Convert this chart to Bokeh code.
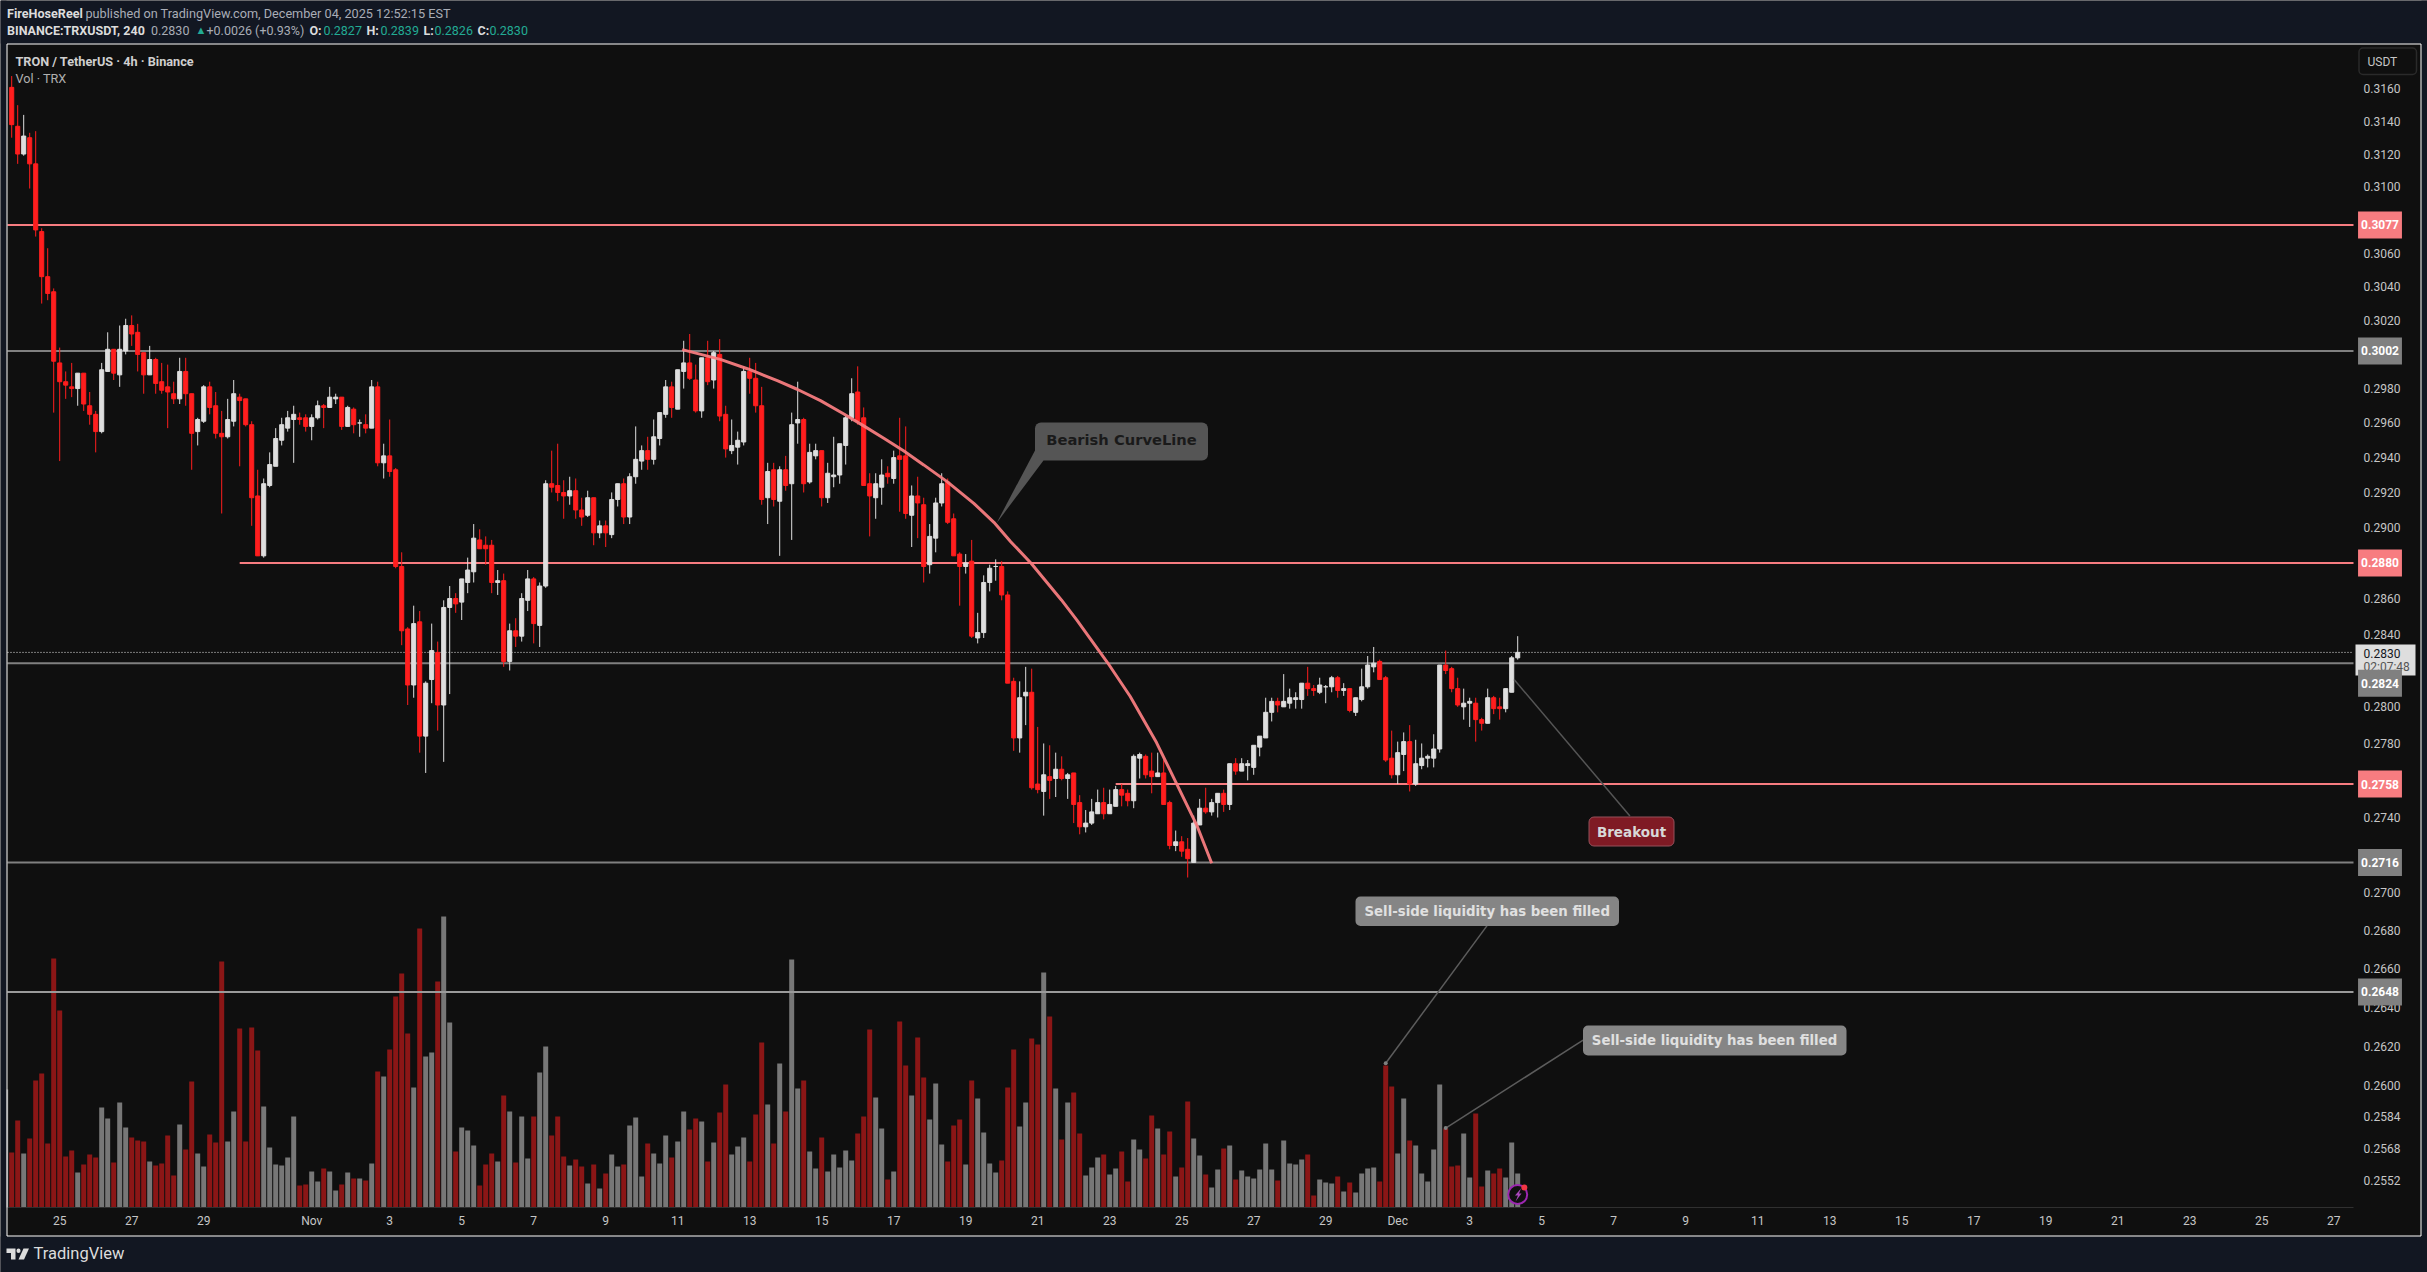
from bokeh.plotting import figure
from bokeh.models import (Range1d, LinearScale, FixedTicker, NumeralTickFormatter, LogAxis, LinearAxis,
                          Label, BoxAnnotation, PolyAnnotation, ColumnDataSource)
from bokeh.embed import file_html
from bokeh.resources import INLINE

# ---- prices in units of 0.0001 (the tick of TRXUSDT), one entry per 4h bar ----
opens = [3161,3137,3120,3130,3114,3073,3046,3037,2995,2984,
2981,2980,2989,2970,2965,2955,2990,3003,2988,3002,
3017,3013,3001,2988,2997,2984,2981,2977,2974,2990,
2977,2955,2961,2981,2970,2954,2952,2961,2975,2974,
2959,2918,2884,2924,2935,2950,2957,2962,2963,2963,
2958,2963,2970,2969,2974,2975,2958,2968,2960,2959,
2957,2981,2937,2941,2933,2878,2843,2812,2847,2784,
2815,2830,2801,2855,2860,2858,2869,2875,2893,2890,
2890,2869,2870,2825,2842,2839,2859,2871,2845,2867,
2925,2924,2920,2918,2921,2910,2907,2917,2897,2901,
2896,2916,2925,2906,2929,2938,2944,2939,2951,2965,
2981,2968,2990,2995,2985,2967,2998,2985,3000,2965,
2944,2946,2949,2990,2986,2970,2917,2933,2915,2933,
2925,2960,2962,2926,2941,2944,2917,2929,2930,2947,
2963,2978,2963,2925,2917,2923,2931,2928,2941,2941,
2907,2918,2913,2879,2894,2914,2926,2905,2885,2878,
2881,2838,2841,2869,2878,2878,2862,2814,2783,2806,
2808,2758,2754,2762,2761,2766,2761,2764,2748,2735,
2737,2742,2748,2742,2746,2755,2753,2749,2772,2773,
2765,2762,2764,2748,2725,2727,2723,2716,2736,2745,
2743,2748,2753,2747,2769,2765,2768,2767,2778,2783,
2797,2803,2800,2802,2804,2804,2813,2810,2808,2811,
2811,2816,2809,2810,2797,2804,2811,2822,2825,2816,
2772,2763,2774,2781,2758,2768,2772,2772,2777,2823,
2821,2810,2800,2802,2802,2793,2791,2805,2800,2799,
2808,2827]
closes = [3138,3120,3131,3114,3074,3046,3036,2996,2984,2982,
2980,2989,2971,2965,2955,2991,3003,2989,3003,3017,
3012,3000,2988,2997,2983,2979,2978,2974,2990,2977,
2954,2962,2981,2969,2954,2952,2962,2977,2973,2959,
2917,2884,2925,2936,2951,2959,2963,2965,2962,2958,
2963,2970,2969,2975,2975,2958,2969,2959,2960,2957,
2981,2937,2941,2932,2878,2842,2812,2846,2784,2813,
2831,2801,2855,2860,2857,2871,2876,2894,2888,2888,
2869,2870,2825,2842,2839,2860,2871,2846,2867,2925,
2923,2920,2918,2921,2910,2906,2917,2897,2901,2897,
2916,2925,2906,2929,2939,2944,2939,2952,2966,2981,
2969,2991,2995,2986,2967,2998,2984,3001,2964,2945,
2947,2950,2990,2986,2970,2916,2932,2916,2933,2924,
2959,2962,2925,2943,2944,2917,2931,2930,2948,2963,
2977,2961,2924,2918,2925,2930,2929,2940,2939,2908,
2918,2914,2878,2895,2914,2925,2903,2884,2878,2880,
2839,2841,2869,2877,2878,2862,2813,2783,2805,2808,
2756,2755,2763,2760,2766,2761,2763,2747,2735,2737,
2743,2748,2742,2747,2755,2752,2749,2773,2774,2763,
2762,2764,2747,2725,2727,2722,2718,2737,2745,2743,
2748,2753,2747,2769,2765,2769,2769,2779,2784,2797,
2803,2801,2803,2805,2805,2813,2810,2809,2812,2811,
2816,2809,2810,2798,2805,2811,2823,2824,2815,2771,
2763,2775,2781,2758,2769,2772,2773,2777,2823,2820,
2810,2801,2802,2803,2793,2791,2805,2799,2799,2810,
2827,2830]
highs = [3168,3150,3144,3133,3134,3075,3063,3039,3004,2990,
2995,2989,2989,2978,2967,2995,3013,3003,3017,3021,
3023,3018,3001,3005,2998,2995,2994,2984,2998,2998,
2977,2963,2982,2984,2978,2967,2974,2985,2977,2974,
2961,2933,2928,2943,2957,2963,2967,2970,2966,2965,
2965,2973,2971,2981,2977,2975,2970,2969,2962,2965,
2985,2984,2948,2962,2934,2886,2844,2856,2853,2814,
2846,2836,2859,2867,2863,2871,2883,2902,2899,2895,
2893,2876,2874,2846,2849,2863,2876,2872,2869,2927,
2944,2948,2927,2929,2928,2917,2921,2917,2904,2904,
2920,2925,2928,2931,2958,2947,2952,2962,2966,2985,
2984,2991,3008,3012,2994,2998,3008,3002,3009,2970,
2962,2955,2993,2998,2995,2981,2937,2937,2935,2941,
2966,2984,2963,2948,2948,2944,2937,2952,2948,2964,
2986,2993,2969,2931,2931,2939,2935,2944,2963,2958,
2924,2929,2917,2902,2917,2931,2928,2908,2886,2885,
2893,2852,2873,2879,2882,2881,2864,2816,2814,2822,
2821,2789,2780,2779,2775,2773,2764,2764,2752,2744,
2750,2755,2756,2755,2757,2758,2755,2774,2775,2774,
2775,2775,2771,2749,2733,2730,2729,2741,2750,2756,
2750,2753,2755,2769,2772,2772,2771,2779,2784,2805,
2805,2805,2818,2810,2808,2813,2822,2812,2816,2812,
2817,2817,2813,2810,2805,2821,2828,2833,2826,2817,
2787,2781,2786,2790,2782,2780,2774,2785,2823,2831,
2822,2816,2810,2805,2805,2794,2810,2806,2805,2810,
2828,2839]
lows = [3130,3114,3119,3099,3070,3030,3032,2966,2938,2974,
2975,2970,2967,2959,2943,2954,2990,2985,2981,3000,
3005,2990,2977,2988,2977,2977,2957,2971,2971,2970,
2933,2947,2960,2965,2951,2908,2951,2958,2935,2958,
2901,2884,2883,2923,2951,2947,2955,2937,2959,2955,
2950,2962,2957,2969,2971,2956,2958,2954,2952,2954,
2957,2935,2928,2929,2877,2834,2801,2805,2775,2764,
2802,2787,2770,2807,2852,2848,2863,2869,2888,2879,
2863,2862,2822,2820,2833,2836,2853,2835,2833,2866,
2920,2915,2905,2913,2905,2901,2906,2890,2894,2889,
2894,2912,2902,2902,2925,2933,2933,2936,2947,2963,
2963,2968,2980,2985,2966,2963,2982,2980,2961,2940,
2942,2936,2947,2977,2966,2913,2902,2912,2884,2921,
2893,2948,2920,2925,2939,2912,2914,2923,2925,2936,
2961,2959,2924,2895,2905,2913,2925,2925,2909,2905,
2889,2894,2869,2874,2886,2912,2902,2884,2856,2874,
2838,2835,2838,2864,2870,2859,2813,2776,2775,2790,
2755,2753,2741,2750,2751,2760,2750,2737,2731,2732,
2736,2742,2739,2742,2746,2746,2746,2745,2761,2761,
2753,2762,2747,2723,2722,2719,2708,2716,2736,2742,
2741,2740,2743,2744,2763,2765,2760,2763,2773,2783,
2792,2797,2800,2799,2799,2799,2806,2806,2807,2802,
2808,2805,2806,2797,2795,2803,2810,2819,2815,2770,
2761,2758,2765,2754,2757,2766,2767,2767,2775,2818,
2808,2800,2793,2789,2781,2787,2791,2796,2793,2797,
2808,2826]
# volume per bar (relative scale of the hidden volume overlay)
volumes = [55,87,54,69,127,134,64,249,197,51,
57,35,43,53,50,100,89,45,105,80,
70,67,66,46,42,44,72,32,83,58,
126,54,41,73,65,246,66,96,179,66,
180,157,101,60,43,42,50,91,22,23,
36,26,39,36,17,23,35,29,29,27,
44,136,131,158,211,234,174,120,279,151,
155,226,291,185,56,80,77,62,22,43,
54,46,112,96,45,91,49,91,135,161,
72,91,51,42,48,41,24,43,19,34,
53,41,43,82,90,31,64,54,44,72,
50,66,96,78,89,86,46,65,95,123,
53,61,70,46,93,165,103,64,144,96,
248,119,127,56,39,70,36,53,40,57,
47,74,91,178,110,79,28,36,186,142,
112,170,130,88,124,63,46,82,88,43,
127,109,75,44,35,47,120,158,81,105,
169,163,235,191,119,68,105,115,74,32,
40,50,53,33,39,56,26,68,58,49,
92,79,53,76,31,40,106,69,52,33,
20,38,59,62,28,37,31,29,38,64,
38,27,67,44,43,48,53,12,28,25,
24,31,16,25,15,34,39,40,26,142,
121,54,109,67,62,34,26,58,123,79,
41,42,74,30,94,21,37,34,39,30,
65,34]
vol_before_first = 118   # bar just left of the first candle

price_ticks = [0.3160,0.3140,0.3120,0.3100,0.3080,0.3060,0.3040,0.3020,0.3000,0.2980,0.2960,0.2940,0.2920,0.2900,
               0.2880,0.2860,0.2840,0.2820,0.2800,0.2780,0.2760,0.2740,0.2720,0.2700,0.2680,0.2660,0.2640,0.2620,
               0.2600,0.2584,0.2568,0.2552]
date_bars = [8,20,32,50,63,75,87,99,111,123,135,147,159,171,183,195,207,219,231,243,255,267,279,291,303,315,327,339,351,363,375,387]
date_labels = ["25","27","29","Nov","3","5","7","9","11","13","15","17","19","21","23","25","27","29","Dec","3","5","7","9","11","13","15","17","19","21","23","25","27"]

level_red = [0.3077, 0.2880, 0.2758]
level_red_start = [None, 38.0, 184.0]
level_grey = [0.3002, 0.2824, 0.2716, 0.2648]
last_price = 0.2830

curve_x = [111.75,118.1,122.85,127.6,130.9,134.8,138.7,142,145.35,148.7,152,155.9,160.35,163.7,166.5,169.9,174.95,177.5,182.63,186.4,190.8,194.1,197.6,200]
curve_p = [.30028,.29971,.29913,.29846,.29796,.2973,.29652,.29583,.29511,.29438,.29358,.29262,.29138,.2903,.2892,.28798,.28592,.28481,.28244,.28058,.27805,.27585,.27352,.27156]

BG, NAVY = "#0f0f0f", "#121722"
RED, WHITE = "#ff1e1e", "#dedede"
VRED, VGREY = "#8b1616", "#777777"
PINK, GREY = "#f77c80", "#808080"
TXT = "#c6c6c6"
W, H = 2427, 1272
FL, FR, FB = 7, 2353, 1207      # edges of the chart pane on the page
BAR0, BAR_W = 11.2, 6.0         # first bar centre and bar spacing on the page
FONT = "Roboto"
LVL = "annotation"
XS, XE = (FL-BAR0)/BAR_W, (FR-BAR0)/BAR_W

# the frame covers the whole page; both axes are placed inside it with fixed_location
p = figure(width=W, height=H, output_backend="svg", toolbar_location=None,
           x_range=Range1d(-BAR0/BAR_W, (W-BAR0)/BAR_W),
           y_range=Range1d(0.25065, 0.32152), y_axis_type="log",
           x_axis_location=None, y_axis_location=None,
           min_border=0, frame_width=W, frame_height=H,
           background_fill_color=BG, border_fill_color=BG, outline_line_color=None)
p.stylesheets = [":host{position:absolute !important;left:0 !important;top:0 !important}"]
p.grid.visible = False
p.extra_y_ranges = {"vol": Range1d(-(H-FB), FB)}
p.extra_y_scales = {"vol": LinearScale()}

# axes
ax = LinearAxis(ticker=FixedTicker(ticks=date_bars), fixed_location=0.25386, bounds=(XS, XE))
ax.major_label_overrides = {b: l for b, l in zip(date_bars, date_labels)}
ax.major_tick_line_color = None; ax.minor_tick_line_color = None
ax.major_tick_out = 0; ax.major_label_standoff = 7
ax.axis_line_color = "#303030"
ax.major_label_text_color = TXT; ax.major_label_text_font = FONT; ax.major_label_text_font_size = "12px"
p.add_layout(ax, "below")
ay = LogAxis(ticker=FixedTicker(ticks=price_ticks), formatter=NumeralTickFormatter(format="0.0000"), fixed_location=XE)
ay.major_tick_line_color = None; ay.minor_tick_line_color = None; ay.axis_line_color = None
ay.major_tick_out = 0; ay.major_label_standoff = 10
ay.major_label_text_color = TXT; ay.major_label_text_font = FONT; ay.major_label_text_font_size = "12px"
p.add_layout(ay, "right")

add = p.add_layout

def box(l, t, r, b, fill, line=None, radius=0, lw=1, level=LVL, alpha=1):
    add(BoxAnnotation(left=l, right=r, top=t, bottom=b, left_units="canvas", right_units="canvas",
                      top_units="canvas", bottom_units="canvas", fill_color=fill, fill_alpha=alpha,
                      line_color=line, line_alpha=1, line_width=lw, border_radius=radius, level=level, editable=False))

def poly(xs, ys, fill, level=LVL):
    add(PolyAnnotation(xs=xs, ys=ys, xs_units="canvas", ys_units="canvas", fill_color=fill, fill_alpha=1,
                       line_color=None, level=level))

def text(px, py, s, color=TXT, size=12, bold=False, align="left", font=FONT):
    add(Label(x=px, y=H-py, x_units="screen", y_units="screen", text=s, text_color=color,
              text_font=font, text_font_size=f"{size}px", text_font_style="bold" if bold else "normal",
              text_align=align, text_baseline="middle", level=LVL))

# page surround and the white frame of the published picture
box(0, 0, W, 43, NAVY)
box(0, 1236, W, H, NAVY)
box(0, 0, 6, H, NAVY)
box(2421, 0, W, H, NAVY)
box(6.5, 43.5, 2420.5, 1235.5, None, line="#ffffff", alpha=0)

# volume
bars = list(range(len(opens)))
is_up = [c >= o for o, c in zip(opens, closes)]
vcol = [VGREY if u else VRED for u in is_up]
p.vbar(x=[-1]+bars, top=[vol_before_first]+volumes, bottom=0, width=0.83, y_range_name="vol",
       fill_color=[VGREY]+vcol, line_color=None)

# levels
for i, lv in enumerate(level_red):
    start = level_red_start[i] if level_red_start[i] is not None else XS
    p.line([start, XE], [lv, lv], line_color=PINK, line_width=2)
for lv in level_grey:
    p.line([XS, XE], [lv, lv], line_color="#9a9a9a" if lv == 0.2648 else GREY, line_width=2)
p.line([XS, XE], [last_price, last_price], line_color="#e6e6e6", line_width=1, line_dash="1 2")

# candles
to_price = lambda arr: [v/10000 for v in arr]
col = [WHITE if u else RED for u in is_up]
src = ColumnDataSource(dict(x=bars, o=to_price(opens), h=to_price(highs), l=to_price(lows), c=to_price(closes), col=col,
                            top=[max(a, b)/10000 for a, b in zip(opens, closes)],
                            bot=[min(a, b)/10000 for a, b in zip(opens, closes)]))
p.segment(x0="x", x1="x", y0="l", y1="h", source=src, line_color="col", line_width=1)
p.vbar(x="x", top="top", bottom="bot", width=0.68, source=src, fill_color="col", line_color="col", line_width=1)

# curve
p.line(curve_x, curve_p, line_color=PINK, line_width=3, line_alpha=0.95)

# leaders
p.line([250.4, 269.7], [0.2815, 0.27408], line_color="#555555", line_width=1.5)
p.line([229, 245.9], [0.26113, 0.26826], line_color="#5c5c5c", line_width=1.5)
p.line([239, 261.9], [0.25784, 0.26231], line_color="#5c5c5c", line_width=1.5)
p.scatter([229, 239], [0.26113, 0.25784], size=4, fill_color="#808080", line_color=None)

# alert icon on the last bar
p.scatter([251], [13], size=19, y_range_name="vol", fill_color=BG, line_color="#9c27b0", line_width=2)
p.scatter([252.1], [20], size=6, y_range_name="vol", fill_color="#f23645", line_color=None)
poly([1520.5,1514.5,1517.5,1515,1521,1518.5], [1188,1195,1195,1201,1193,1193], "#ab47bc")

# price labels
def price_tag(val, fill, off=0):
    add(Label(x=2379.5, x_units="screen", y=val, y_units="data", y_offset=off, text=f"{val:.4f}",
              text_color="#ffffff", text_font=FONT, text_font_size="12px", text_font_style="bold",
              text_align="center", text_baseline="middle", background_fill_color=fill, padding=(3, 9),
              level=LVL))
for lv in level_red:
    price_tag(lv, PINK)
price_tag(0.3002, GREY)
price_tag(0.2716, GREY)
price_tag(0.2648, GREY)
box(2355, 644, 2415, 675, "#dedede")
text(2363, 652.5, "0.2830", color="#131722")
text(2363, 666, "02:07:48", color="#555555")
price_tag(0.2824, GREY, off=-20)

# USDT button
box(2358.5, 47.5, 2416, 74, BG, line="#2a2a2a", radius=4, lw=1.5)
text(2367, 61.5, "USDT", color=TXT, size=12)

# callouts
CF = "DejaVu Sans"
poly([996, 1034.5, 1043], [522.7, 450, 460], "#555555")
box(1034.5, 422, 1207.5, 460, "#555555", radius=6)
text(1121, 439, "Bearish CurveLine", color="#1a1a1a", size=14.7, bold=True, font=CF, align="center")
box(1588.5, 816.5, 1673.5, 845.5, "#7f1a24", line="#96505a", radius=5)
text(1631, 831, "Breakout", color="#d8d8d8", size=13.5, bold=True, font=CF, align="center")
box(1355, 896, 1618.5, 925.5, "#858585", radius=5)
text(1486.7, 911, "Sell-side liquidity has been filled", color="#e0e0e0", size=13.3, bold=True, font=CF, align="center")
box(1582.5, 1025, 1846, 1055, "#858585", radius=5)
text(1714, 1040, "Sell-side liquidity has been filled", color="#e0e0e0", size=13.3, bold=True, font=CF, align="center")

# legend in pane
text(15, 60.5, "TRON / TetherUS · 4h · Binance", color="#cfcfcf", size=12.7, bold=True)
text(15, 78, "Vol · TRX", color="#b0b0b0", size=12.7)

# header
G, T = "#a9adb6", "#22ab94"
text(6.5, 13, "FireHoseReel", color="#dcdcdc", size=12.6, bold=True)
text(85, 13, "published on TradingView.com, December 04, 2025 12:52:15 EST", color=G, size=12.7)
text(6.5, 30, "BINANCE:TRXUSDT, 240", color="#dcdcdc", size=12.5, bold=True)
text(150.5, 30, "0.2830", color=G, size=12.5)
text(195, 30, "▲", color=T, size=11)
text(206, 30, "+0.0026 (+0.93%)", color=G, size=12.5)
for x0, k, x1, v in [(309, "O:", 323, "0.2827"), (366, "H:", 380, "0.2839"), (423, "L:", 434, "0.2826"), (477, "C:", 489, "0.2830")]:
    text(x0, 30, k, color="#dcdcdc", bold=True, size=12.5)
    text(x1, 30, v, color=T, size=12.5)

# footer
L = "#dcdcdc"
poly([6,15,15,10.5,10.5,6], [1248,1248,1259,1259,1252.5,1252.5], L)
box(16, 1248, 20, 1252.5, L, radius=2)
poly([23,28.5,23.5,18], [1248,1248,1259,1259], L)
text(33, 1253, "TradingView", color=L, size=16.5, bold=False)

open("out.html", "w").write(file_html(p, INLINE))
